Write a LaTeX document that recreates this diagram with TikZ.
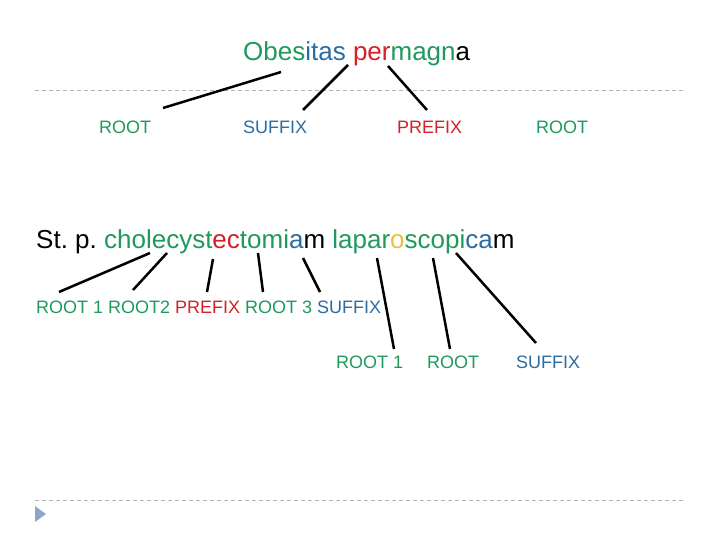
\documentclass[tikz,border=0pt]{standalone}
\usepackage{fontspec}
\setmainfont{Liberation Sans}
\frenchspacing
\definecolor{mgreen}{HTML}{1F9A5C}
\definecolor{mblue}{HTML}{2B6CA3}
\definecolor{mred}{HTML}{D42029}
\definecolor{myellow}{HTML}{E8C23C}
\definecolor{dashgray}{HTML}{B4B4B4}
\definecolor{bullet}{HTML}{8EA6C8}
\begin{document}
\begin{tikzpicture}[x=1pt,y=-1pt,
  big/.style={inner sep=0pt,anchor=base west,font=\fontsize{26}{30}\selectfont},
  lab/.style={inner sep=0pt,anchor=base west,font=\fontsize{18}{22}\selectfont},
  conn/.style={line width=2.5pt,black},
  sep/.style={dashgray,line width=0.9pt,dash pattern=on 4pt off 3pt}]
\useasboundingbox (0,0) rectangle (720,540);
\fill[white] (0,0) rectangle (720,540);
% separators
\draw[sep] (35,90) -- (685,90);
\draw[sep] (35,500) -- (685,500);
\fill[bullet] (35,506) -- (46,514) -- (35,522) -- cycle;
% title
\node[big] (title) at (243,61) {\textcolor{mgreen}{Obes}\textcolor{mblue}{itas} \textcolor{mred}{per}\textcolor{mgreen}{magn}a};
% row 1 labels
\node[lab,text=mgreen] (r1) at (99,134) {ROOT};
\node[lab,text=mblue] (s1) at (243,134) {SUFFIX};
\node[lab,text=mred] (p1) at (397,134) {PREFIX};
\node[lab,text=mgreen] (r2) at (536,134) {ROOT};
% row 2 phrase
\node[big] (phrase) at (36,248) {St. p. \textcolor{mgreen}{cholecyst}\textcolor{mred}{ec}\textcolor{mgreen}{tomi}\textcolor{mblue}{a}m \textcolor{mgreen}{lapar}\textcolor{myellow}{o}\textcolor{mgreen}{scopi}\textcolor{mblue}{ca}m};
% row 2 labels
\node[lab] (parts) at (36,313) {\textcolor{mgreen}{ROOT 1 ROOT2} \textcolor{mred}{PREFIX} \textcolor{mgreen}{ROOT 3} \textcolor{mblue}{SUFFIX}};
% row 3 labels
\node[lab,text=mgreen] (r3) at (336,368) {ROOT 1};
\node[lab,text=mgreen] (r4) at (427,368) {ROOT};
\node[lab,text=mblue] (s3) at (516,368) {SUFFIX};
% connector end points
\coordinate (a1) at (281,72);  \coordinate (b1) at (163,108);
\coordinate (a2) at (348,65);  \coordinate (b2) at (303,110);
\coordinate (a3) at (388,66);  \coordinate (b3) at (427,110);
\coordinate (c1) at (150,253); \coordinate (d1) at (59,292);
\coordinate (c2) at (167,253); \coordinate (d2) at (133,290);
\coordinate (c3) at (213,259); \coordinate (d3) at (207,292);
\coordinate (c4) at (258,253); \coordinate (d4) at (263,292);
\coordinate (c5) at (303,258); \coordinate (d5) at (320,292);
\coordinate (c6) at (377,258); \coordinate (d6) at (394,349);
\coordinate (c7) at (433,258); \coordinate (d7) at (450,349);
\coordinate (c8) at (456,253); \coordinate (d8) at (536,343);
\foreach \i in {1,2,3} \draw[conn] (a\i) -- (b\i);
\foreach \i in {1,...,8} \draw[conn] (c\i) -- (d\i);
\end{tikzpicture}
\end{document}
